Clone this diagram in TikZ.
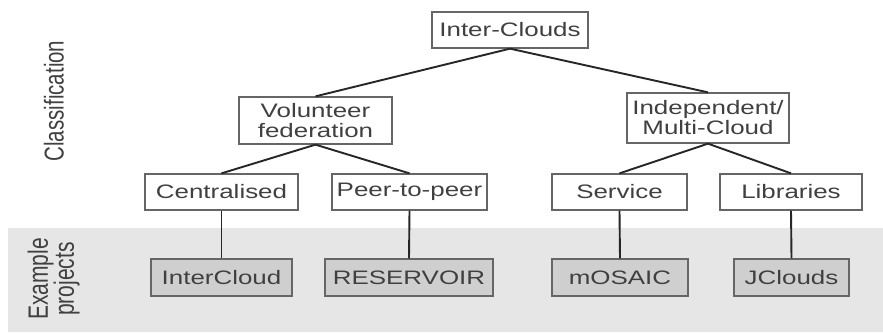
\documentclass[tikz,border=0pt]{standalone}
\usepackage{fontspec}
\setmainfont{Liberation Sans}
\newfontfamily\wfont{Liberation Sans}[FakeStretch=1.33]
\definecolor{txt}{HTML}{404040}
\definecolor{bord}{HTML}{666666}
\definecolor{lin}{HTML}{262626}
\definecolor{band}{HTML}{E6E6E6}
\definecolor{gbox}{HTML}{CFCFCF}
\begin{document}
\begin{tikzpicture}[x=1pt,y=-1pt,
  box/.style={draw=bord,line width=1.3pt,fill=white,inner sep=0pt,align=center,
    text=txt,font=\wfont\fontsize{19.5}{20}\selectfont},
  pbox/.style={box,fill=gbox,draw=bord},
  conn/.style={draw=lin,line width=1.9pt}]
\useasboundingbox (0,0) rectangle (883,332);
\fill[white] (0,0) rectangle (883,332);
\fill[band] (8,228) rectangle (883,332);
\node[box,minimum width=156pt,minimum height=36pt] (ic) at (510,30) {Inter-Clouds};
\node[box,minimum width=153pt,minimum height=47pt] (vf) at (315.5,120.5) {Volunteer\\federation};
\node[box,minimum width=162pt,minimum height=50pt] (im) at (708,118) {Independent/\\Multi-Cloud};
\node[box,minimum width=153pt,minimum height=36pt] (ce) at (221.5,192) {Centralised};
\node[box,minimum width=155pt,minimum height=36pt] (pp) at (409.5,192) {Peer-to-peer};
\node[box,minimum width=135pt,minimum height=36pt] (se) at (619.5,192) {Service};
\node[box,minimum width=142pt,minimum height=36pt] (li) at (791,192) {Libraries};
\node[pbox,minimum width=141pt,minimum height=37pt] (icl) at (221.5,277.5) {InterCloud};
\node[pbox,minimum width=168pt,minimum height=37pt] (res) at (409,277.5) {RESERVOIR};
\node[pbox,minimum width=136pt,minimum height=37pt] (mos) at (620,277.5) {mOSAIC};
\node[pbox,minimum width=115pt,minimum height=37pt] (jc) at (791.5,277.5) {JClouds};
\draw[conn] (ic.south) -- (vf.north);
\draw[conn] (ic.south) -- (im.north);
\draw[conn] (vf.south) -- (ce.north);
\draw[conn] (vf.south) -- (pp.north);
\draw[conn] (im.south) -- (se.north);
\draw[conn] (im.south) -- (li.north);
\draw[conn] (ce.south) -- (icl.north);
\draw[conn] (pp.south) -- (res.north);
\draw[conn] (se.south) -- (mos.north);
\draw[conn] (li.south) -- (jc.north);
\node[inner sep=0pt,text=txt] (cls) at (54,101) {\scalebox{1.33}[1]{\rotatebox{90}{\fontsize{20.5}{22}\selectfont Classification}}};
\node[inner sep=0pt,text=txt] (exp) at (55,279) {\scalebox{1.33}[1]{\rotatebox{90}{\fontsize{21}{21}\selectfont\begin{tabular}{@{}c@{}}Example\\[-2pt] projects\end{tabular}}}};
\end{tikzpicture}
\end{document}
